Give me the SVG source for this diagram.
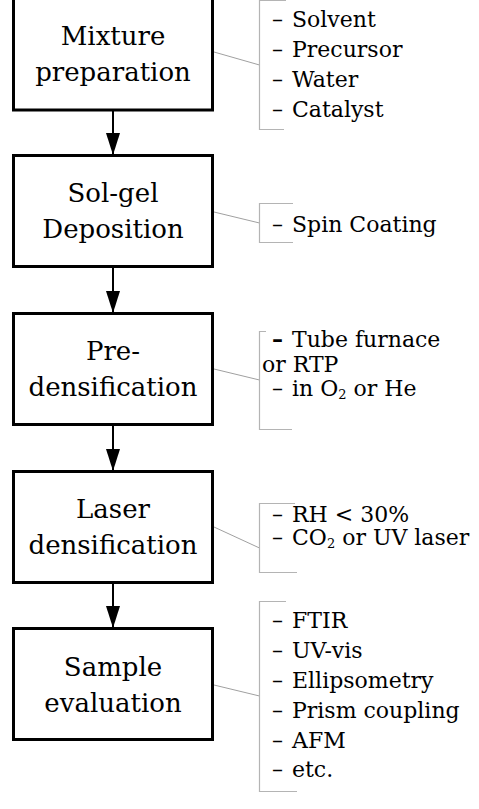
<svg xmlns="http://www.w3.org/2000/svg" width="479" height="809" viewBox="0 0 479 809">
<style>
.box{fill:#fff;stroke:#000;stroke-width:3}
.bt{font-family:"DejaVu Serif","Liberation Serif",serif;font-size:26px;fill:#000;text-anchor:middle}
.st{font-family:"DejaVu Serif","Liberation Serif",serif;font-size:22px;fill:#000}
.sub{font-size:13px}
.br{fill:none;stroke:#b4b4b4;stroke-width:1.2}
.ln{fill:none;stroke:#a0a0a0;stroke-width:1}
.ar{stroke:#000;stroke-width:2}
</style>
<defs>
<marker id="ah" markerUnits="userSpaceOnUse" viewBox="0 0 22 14" refX="22" refY="7" markerWidth="22" markerHeight="14" orient="auto">
<path d="M0,0 L22,7 L0,14 z" fill="#000"/>
</marker>
</defs>
<g id="connectors">
<line class="ar" x1="113" y1="110" x2="113" y2="155" marker-end="url(#ah)"/>
<line class="ar" x1="113" y1="267" x2="113" y2="313" marker-end="url(#ah)"/>
<line class="ar" x1="113" y1="425" x2="113" y2="471" marker-end="url(#ah)"/>
<line class="ar" x1="113" y1="583" x2="113" y2="628" marker-end="url(#ah)"/>
<line class="ln" x1="214" y1="52" x2="259.5" y2="65"/>
<line class="ln" x1="214" y1="212" x2="259.5" y2="223"/>
<line class="ln" x1="214" y1="369" x2="259.5" y2="380"/>
<line class="ln" x1="214" y1="527" x2="259.5" y2="548"/>
<line class="ln" x1="214" y1="685" x2="259.5" y2="696"/>
</g>
<g id="node-mixture">
<rect class="box" x="13.5" y="-2" width="199" height="112"/>
<text class="bt" x="113" y="45">Mixture</text>
<text class="bt" x="113" y="81">preparation</text>
</g>
<g id="node-solgel">
<rect class="box" x="13.5" y="155.5" width="199" height="111"/>
<text class="bt" x="113" y="202">Sol-gel</text>
<text class="bt" x="113" y="238">Deposition</text>
</g>
<g id="node-predens">
<rect class="box" x="13.5" y="313.5" width="199" height="111"/>
<text class="bt" x="113" y="360">Pre-</text>
<text class="bt" x="113" y="396">densification</text>
</g>
<g id="node-laser">
<rect class="box" x="13.5" y="471.5" width="199" height="111"/>
<text class="bt" x="113" y="518">Laser</text>
<text class="bt" x="113" y="554">densification</text>
</g>
<g id="node-sample">
<rect class="box" x="13.5" y="628.5" width="199" height="111"/>
<text class="bt" x="113" y="676">Sample</text>
<text class="bt" x="113" y="712">evaluation</text>
</g>
<g id="note-mixture">
<path class="br" d="M286,0.5 H259.5 V129.5 H284"/>
<text class="st" x="272" y="27">– <tspan x="292">Solvent</tspan></text>
<text class="st" x="272" y="57">– <tspan x="292">Precursor</tspan></text>
<text class="st" x="272" y="87">– <tspan x="292">Water</tspan></text>
<text class="st" x="272" y="117">– <tspan x="292">Catalyst</tspan></text>
</g>
<g id="note-solgel">
<path class="br" d="M293,203.5 H259.5 V242.5 H293"/>
<text class="st" x="272" y="232">– <tspan x="292">Spin Coating</tspan></text>
</g>
<g id="note-predens">
<path class="br" d="M266,331.5 H259.5 V429.5 H292"/>
<text class="st" x="272" y="347"><tspan font-weight="bold">–</tspan> <tspan x="292">Tube furnace</tspan></text>
<text class="st" x="262" y="372">or RTP</text>
<text class="st" x="272" y="396">– <tspan x="292">in O</tspan><tspan class="sub" dy="3">2</tspan><tspan dy="-3"> or He</tspan></text>
</g>
<g id="note-laser">
<path class="br" d="M295,503.5 H259.5 V572.5 H297"/>
<text class="st" x="272" y="522">– <tspan x="292">RH &lt; 30%</tspan></text>
<text class="st" x="272" y="545">– <tspan x="292">CO</tspan><tspan class="sub" dy="3">2</tspan><tspan dy="-3"> or UV laser</tspan></text>
</g>
<g id="note-sample">
<path class="br" d="M286,601.5 H259.5 V791.5 H297"/>
<text class="st" x="272" y="628">– <tspan x="292">FTIR</tspan></text>
<text class="st" x="272" y="658">– <tspan x="292">UV-vis</tspan></text>
<text class="st" x="272" y="688">– <tspan x="292">Ellipsometry</tspan></text>
<text class="st" x="272" y="718">– <tspan x="292">Prism coupling</tspan></text>
<text class="st" x="272" y="748">– <tspan x="292">AFM</tspan></text>
<text class="st" x="272" y="777">– <tspan x="292">etc.</tspan></text>
</g>
</svg>
